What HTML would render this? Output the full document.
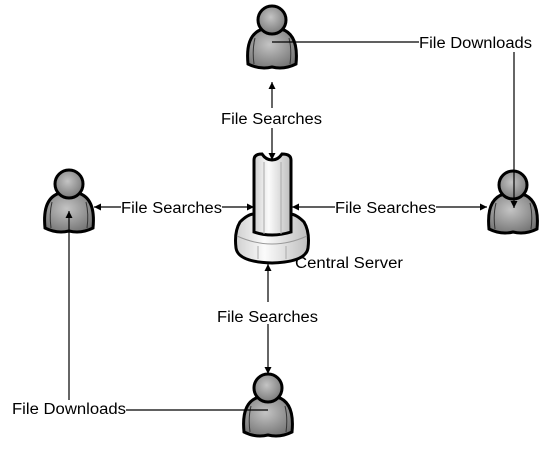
<!DOCTYPE html>
<html><head><style>
html,body{margin:0;padding:0;background:#fff;}
svg{display:block;}
text{font-family:"Liberation Sans",Arial,sans-serif;font-size:15.5px;fill:#000;}
</style></head><body>
<svg width="556" height="458" viewBox="0 0 556 458" xmlns="http://www.w3.org/2000/svg">
<defs>
<radialGradient id="g" cx="0.45" cy="0.4" r="0.7">
<stop offset="0" stop-color="#c4c4c4"/><stop offset="1" stop-color="#6e6e6e"/>
</radialGradient>
<linearGradient id="col" x1="0" x2="1">
<stop offset="0" stop-color="#cfcfcf"/><stop offset="0.4" stop-color="#fbfbfb"/><stop offset="1" stop-color="#bdbdbd"/>
</linearGradient>
<g id="p">
<path d="M-24,44 Q-27,14 -9,9 L9,9 Q27,14 24,44 Q12,50 0,47 Q-12,50 -24,44 Z" fill="url(#g)" stroke="#000" stroke-width="3"/>
<path d="M-17,18 Q-20,30 -18,44 M17,18 Q20,30 18,44" fill="none" stroke="#333" stroke-width="1"/>
<circle cx="0" cy="0" r="14" fill="url(#g)" stroke="#000" stroke-width="3"/>
</g>
<marker id="a" viewBox="0 0 10 10" refX="10" refY="5" markerWidth="7" markerHeight="7" orient="auto-start-reverse" markerUnits="userSpaceOnUse">
<path d="M0,0 L10,5 L0,10 Z" fill="#000"/></marker>
</defs>
<use href="#p" x="272" y="20"/>
<use href="#p" x="69" y="184"/>
<use href="#p" x="513" y="185"/>
<use href="#p" x="268" y="388"/>
<g stroke="#000">
<path d="M240,222 Q234,232 236,248 Q238,262 272,263 Q306,262 308,248 Q310,232 304,222 Q296,214 290,214 L254,214 Q248,214 240,222 Z" fill="url(#col)" stroke-width="3"/>
<path d="M237,236 Q272,252 307,236" fill="none" stroke="#999" stroke-width="1"/>
<path d="M254,232 L254,160 Q254,154 262,154 Q266,160 272,160 Q278,160 282,154 Q291,154 291,160 L291,232 Q272,238 254,232 Z" fill="url(#col)" stroke-width="3"/>
<path d="M264,162 L264,234 M281,162 L281,234 M258,246 L258,259 M286,246 L286,259" stroke="#aaa" stroke-width="1"/>
</g>
<g stroke="#000" stroke-width="1.2" fill="none">
<line x1="272" y1="108" x2="272" y2="82" marker-end="url(#a)"/>
<line x1="272" y1="128" x2="272" y2="160" marker-end="url(#a)"/>
<line x1="121" y1="207" x2="94" y2="207" marker-end="url(#a)"/>
<line x1="222" y1="207" x2="254" y2="207" marker-end="url(#a)"/>
<line x1="335" y1="207" x2="292" y2="207" marker-end="url(#a)"/>
<line x1="436" y1="207" x2="487" y2="207" marker-end="url(#a)"/>
<line x1="268" y1="302" x2="268" y2="264" marker-end="url(#a)"/>
<line x1="268" y1="324" x2="268" y2="374" marker-end="url(#a)"/>
<line x1="272" y1="42" x2="419" y2="42"/>
<line x1="514" y1="52" x2="514" y2="208" marker-end="url(#a)"/>
<line x1="126" y1="410" x2="268" y2="410"/>
<line x1="69" y1="400" x2="69" y2="211" marker-end="url(#a)"/>
</g>
<text x="221" y="124" textLength="101" lengthAdjust="spacingAndGlyphs">File Searches</text>
<text x="121" y="213" textLength="101" lengthAdjust="spacingAndGlyphs">File Searches</text>
<text x="335" y="213" textLength="101" lengthAdjust="spacingAndGlyphs">File Searches</text>
<text x="295" y="268" textLength="108" lengthAdjust="spacingAndGlyphs">Central Server</text>
<text x="217" y="322" textLength="101" lengthAdjust="spacingAndGlyphs">File Searches</text>
<text x="419" y="48" textLength="113" lengthAdjust="spacingAndGlyphs">File Downloads</text>
<text x="12" y="414" textLength="114" lengthAdjust="spacingAndGlyphs">File Downloads</text>
</svg>
</body></html>
